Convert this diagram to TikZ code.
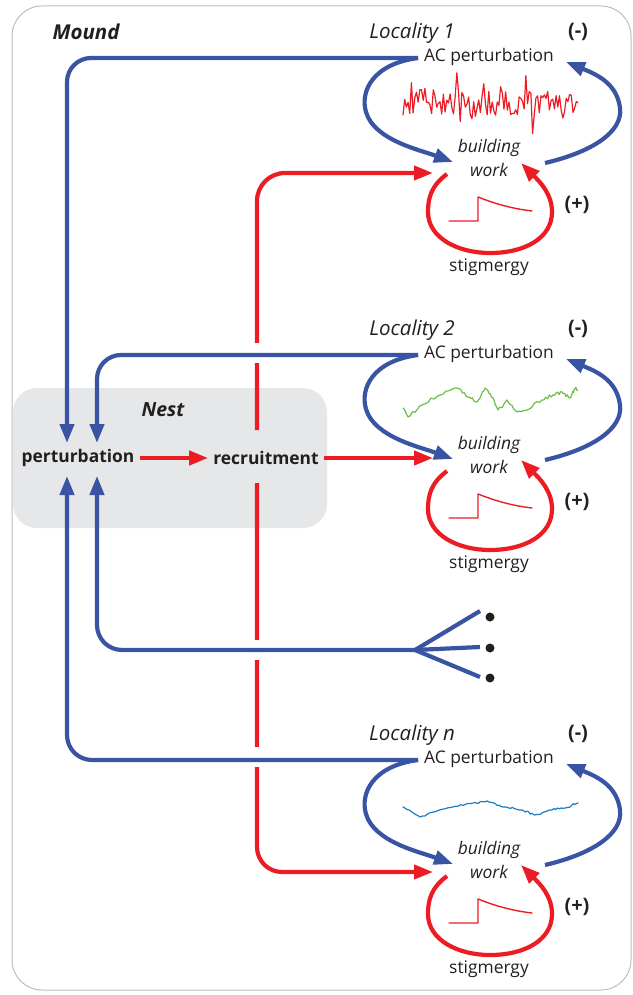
\documentclass[tikz,border=0pt]{standalone}
\usepackage{fontspec}
\setmainfont{Open Sans}
\usetikzlibrary{arrows.meta}

\definecolor{loopblue}{HTML}{3A54A4}
\definecolor{loopred}{HTML}{ED1C24}
\definecolor{nestgray}{HTML}{E6E7E8}
\definecolor{framegray}{HTML}{BDBDBD}
\definecolor{inkgray}{HTML}{231F20}
\definecolor{siggreen}{HTML}{6DBE45}
\definecolor{sigblue}{HTML}{1C7DC3}

\newcommand{\lblsize}{\fontsize{17.4}{23.5}\selectfont}
\newcommand{\headsize}{\fontsize{20.5}{24}\selectfont}

\tikzset{
  every node/.style={text=inkgray, inner sep=2pt},
  lbl/.style={font=\lblsize},
  lblit/.style={font=\itshape\lblsize},
  lblhead/.style={font=\itshape\headsize},
  lblsign/.style={font=\bfseries\fontsize{20}{24}\selectfont},
  lblbf/.style={font=\bfseries\lblsize, inner sep=5pt},
  lblbi/.style={font=\bfseries\itshape\headsize},
  blueline/.style={draw=loopblue, line width=4.2pt},
  redline/.style={draw=loopred, line width=4.2pt},
  headed/.style={-{Triangle[length=19pt,width=14pt]}},
  signal/.style={line width=1.2pt, line join=round, line cap=round},
  dotnode/.style={circle, fill=inkgray, inner sep=0pt, minimum size=9pt},
}

% One locality: labels, negative (blue) loop, positive (red) stigmergy loop
\newcommand{\antlocality}[3]{%
  \begin{scope}[shift={(0,#1)}]
    \node[lblhead] (loc#3) at (412,33) {#2};
    \node[lblsign] (neg#3) at (578,32) {(-)};
    \node[lbl] (AC#3) at (489,57) {AC perturbation};
    \node[lblit, align=center] (W#3) at (489,158) {building\\work};
    \node[lblsign] (pos#3) at (577,205) {(+)};
    \node[lbl] (S#3) at (489,267) {stigmergy};
    \coordinate (J#3) at (418,58);
    \coordinate (Wl#3) at (453,162);
    \coordinate (Wr#3) at (545,163);
    \coordinate (ACr#3) at (566,62);
    \coordinate (Sa#3) at (447,174);
    \coordinate (Sb#3) at (521,163);
    % negative feedback loop
    \draw[blueline, headed] (J#3) .. controls (372,64) and (360,92) .. (366,112)
          .. controls (374,140) and (420,150) .. (Wl#3);
    \draw[blueline, headed] (Wr#3) .. controls (592,152) and (623,132) .. (620,108)
          .. controls (617,84) and (598,75) .. (ACr#3);
    % positive feedback loop
    \draw[redline, headed] (Sa#3) .. controls (431,186) and (428,198) .. (428,212)
          .. controls (428,238) and (458,253) .. (490,253)
          .. controls (525,253) and (552,238) .. (552,212)
          .. controls (552,194) and (540,182) .. (Sb#3);
    % pheromone pulse
    \draw[signal, loopred, line width=1.4pt] (449,221) -- (478,221) -- (478,197)
          .. controls (498,205) and (515,209) .. (532,211);
  \end{scope}}

\begin{document}
\begin{tikzpicture}[x=1pt, y=-1pt]
\useasboundingbox (0,0) rectangle (632,995);
\pgfmathsetseed{12}

% nest area and outer frame
\fill[nestgray, rounded corners=24pt] (13,388) rectangle (327,528);
\draw[framegray, line width=1pt, rounded corners=30pt] (12,6) rectangle (631,990);

\node[lblbi] (mound) at (86,32) {Mound};
\node[lblbi, font=\bfseries\itshape\fontsize{19.5}{23}\selectfont] (nest) at (163,410) {Nest};
\node[lblbf] (pert) at (78,458) {perturbation};
\node[lblbf] (rec) at (266,458) {recruitment};

\antlocality{0}{Locality 1}{1}
\antlocality{297}{Locality 2}{2}
\antlocality{702}{Locality n}{n}

% activity signals
\draw[signal, loopred, line width=1.2pt]
  plot[domain=403:578, samples=105] (\x,{103+12*rand+20*rand*(rnd>0.75)});
\begin{scope}[shift={(0,297)}]
  \draw[signal, siggreen] (403,111)
    foreach \xa/\ya/\xb/\yb in {403/111/408/120, 408/120/422/108, 422/108/440/98,
      440/98/457/91, 457/91/468/100, 468/100/477/105, 477/105/485/91,
      485/91/493/101, 493/101/498/113, 498/113/507/103, 507/103/517/115,
      517/115/527/113, 527/113/542/103, 542/103/553/98, 553/98/562/95,
      562/95/570/101, 570/101/575/91, 575/91/578/93}
    { -- plot[domain=0:1, samples=7] ({\xa+(\xb-\xa)*\x},{\ya+(\yb-\ya)*\x+2.2*rand*sin(180*\x)}) };
\end{scope}
\begin{scope}[shift={(0,702)}]
  \draw[signal, sigblue] (403,105)
    foreach \xa/\ya/\xb/\yb in {403/105/420/115, 420/115/433/110, 433/110/453/105,
      453/105/473/101, 473/101/487/99, 487/99/503/105, 503/105/522/108,
      522/108/535/113, 535/113/550/108, 550/108/565/106, 565/106/578/101}
    { -- plot[domain=0:1, samples=9] ({\xa+(\xb-\xa)*\x},{\ya+(\yb-\ya)*\x+1.3*rand*sin(180*\x)}) };
\end{scope}

% connector end points
\coordinate (recup) at (257,430);
\coordinate (recdn) at (257,483);
\coordinate (in1) at (433,173);
\coordinate (in2) at (433,458);
\coordinate (inn) at (433,872);
\coordinate (ptopA) at (67,443);
\coordinate (ptopB) at (97,443);
\coordinate (pbotA) at (67,476);
\coordinate (pbotB) at (97,476);
\coordinate (fork) at (415,650);

% recruitment (red)
\draw[redline, headed] (pert.east) -- (rec.west);
\draw[redline, headed, rounded corners=28pt] (recup) |- (in1);
\draw[redline, headed] (rec.east) -- (in2);
\draw[redline, headed, rounded corners=25pt] (recdn) |- (inn);

% breaks where blue lines pass over
\fill[white] (250,343) rectangle (264,363);
\fill[white] (250,640) rectangle (264,660);
\fill[white] (250,747) rectangle (264,767);

% perturbation feedback (blue)
\draw[blueline, headed, rounded corners=24pt] (J1) -| (ptopA);
\draw[blueline, headed, rounded corners=24pt] (J2) -| (ptopB);
\draw[blueline, headed, rounded corners=25pt] (fork) -| (pbotB);
\draw[blueline, headed, rounded corners=25pt] (Jn) -| (pbotA);

% further localities
\node[dotnode] (d1) at (490,617) {};
\node[dotnode] (d2) at (490,648) {};
\node[dotnode] (d3) at (490,678) {};
\draw[blueline] (fork) -- ([xshift=-10pt,yshift=6pt]d1.center);
\draw[blueline] (fork) -- ([xshift=-10pt,yshift=1pt]d2.center);
\draw[blueline] (fork) -- ([xshift=-10pt,yshift=1pt]d3.center);
\end{tikzpicture}
\end{document}
